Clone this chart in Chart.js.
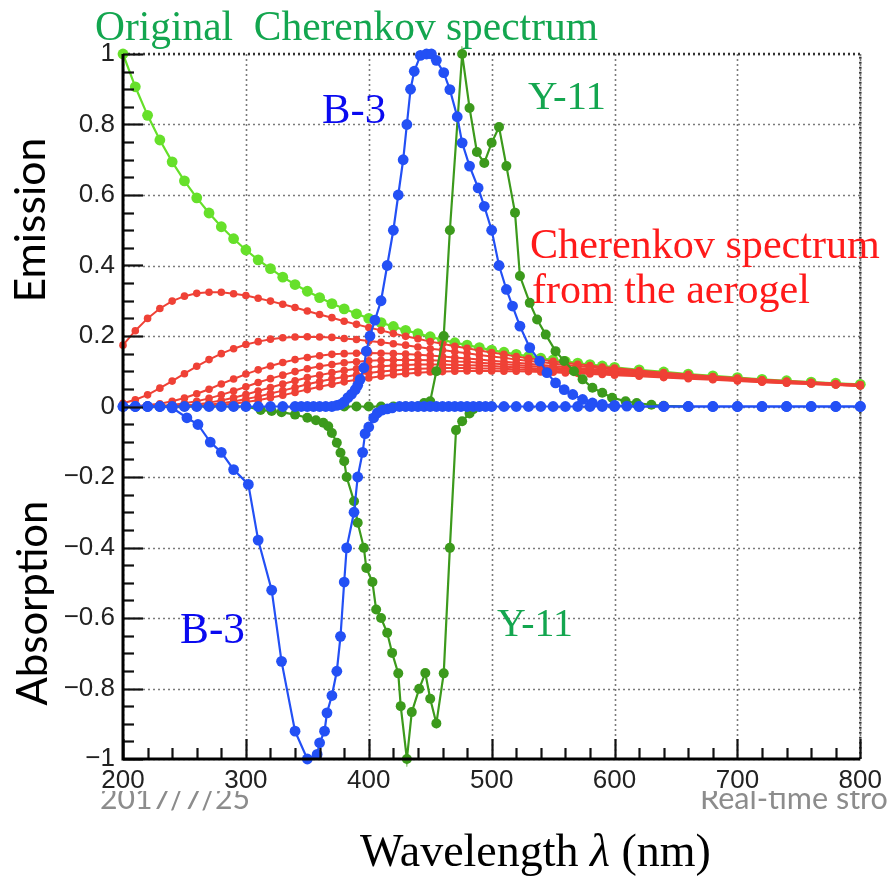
<!DOCTYPE html>
<html lang="en">
  <head>
    <meta charset="UTF-8" />
    <title>Cherenkov spectrum and wavelength shifters</title>
    <script src="https://cdn.jsdelivr.net/npm/chart.js"></script>
    <style>
      html, body { margin: 0; padding: 0; background: #fff; }
      #wrap { width: 888px; height: 876px; }
    </style>
  </head>
  <body>
    <div id="wrap"><canvas id="spectrumChart" width="888" height="876"></canvas></div>

    <script>
      // ---- data ----
      var waveCh = [
        200, 210, 220, 230, 240, 250, 260, 270, 280, 290,
        300, 310, 320, 330, 340, 350, 360, 370, 380, 390,
        400, 410, 420, 430, 440, 450, 460, 470, 480, 490,
        500, 510, 520, 530, 540, 550, 560, 570, 580, 590,
        600, 620, 640, 660, 680, 700, 720, 740, 760, 780,
        800,
      ];
      var cherenkovOrig = [
        1.000, 0.907, 0.826, 0.756, 0.694, 0.640, 0.592, 0.549, 0.510, 0.476,
        0.444, 0.416, 0.391, 0.367, 0.346, 0.327, 0.309, 0.292, 0.277, 0.263,
        0.250, 0.238, 0.227, 0.216, 0.207, 0.198, 0.189, 0.181, 0.174, 0.167,
        0.160, 0.154, 0.148, 0.142, 0.137, 0.132, 0.128, 0.123, 0.119, 0.115,
        0.111, 0.104, 0.098, 0.092, 0.087, 0.082, 0.077, 0.073, 0.069, 0.066,
        0.063,
      ];
      var aerogel1 = [
        0.174, 0.215, 0.250, 0.278, 0.299, 0.313, 0.321, 0.324, 0.324, 0.320,
        0.315, 0.307, 0.299, 0.290, 0.281, 0.271, 0.261, 0.252, 0.242, 0.233,
        0.224, 0.216, 0.207, 0.199, 0.192, 0.184, 0.178, 0.171, 0.165, 0.159,
        0.153, 0.148, 0.142, 0.137, 0.133, 0.128, 0.124, 0.120, 0.116, 0.112,
        0.109, 0.102, 0.096, 0.091, 0.085, 0.081, 0.076, 0.072, 0.069, 0.065,
        0.062,
      ];
      var aerogel2 = [
        0.009, 0.019, 0.033, 0.052, 0.072, 0.093, 0.114, 0.133, 0.150, 0.164,
        0.176, 0.184, 0.191, 0.195, 0.197, 0.198, 0.197, 0.196, 0.193, 0.190,
        0.186, 0.182, 0.178, 0.174, 0.169, 0.164, 0.160, 0.155, 0.151, 0.146,
        0.142, 0.138, 0.133, 0.129, 0.126, 0.122, 0.118, 0.115, 0.111, 0.108,
        0.105, 0.099, 0.093, 0.088, 0.084, 0.079, 0.075, 0.071, 0.068, 0.064,
        0.061,
      ];
      var aerogel3 = [
        0.000, 0.001, 0.004, 0.008, 0.015, 0.024, 0.036, 0.049, 0.064, 0.078,
        0.092, 0.104, 0.115, 0.125, 0.133, 0.139, 0.144, 0.148, 0.150, 0.151,
        0.152, 0.151, 0.150, 0.149, 0.147, 0.145, 0.142, 0.139, 0.136, 0.133,
        0.130, 0.127, 0.124, 0.121, 0.118, 0.115, 0.112, 0.109, 0.106, 0.103,
        0.101, 0.096, 0.091, 0.086, 0.082, 0.077, 0.074, 0.070, 0.067, 0.064,
        0.061,
      ];
      var aerogel4 = [
        0.000, 0.000, 0.001, 0.002, 0.004, 0.009, 0.015, 0.023, 0.033, 0.044,
        0.056, 0.068, 0.079, 0.089, 0.099, 0.107, 0.114, 0.119, 0.124, 0.127,
        0.130, 0.131, 0.132, 0.132, 0.132, 0.131, 0.130, 0.128, 0.127, 0.124,
        0.122, 0.120, 0.118, 0.115, 0.113, 0.110, 0.108, 0.105, 0.103, 0.100,
        0.098, 0.093, 0.088, 0.084, 0.080, 0.076, 0.073, 0.069, 0.066, 0.063,
        0.060,
      ];
      var aerogel5 = [
        0.000, 0.000, 0.000, 0.000, 0.001, 0.003, 0.006, 0.011, 0.017, 0.025,
        0.034, 0.044, 0.054, 0.064, 0.073, 0.082, 0.089, 0.096, 0.102, 0.107,
        0.111, 0.114, 0.116, 0.118, 0.119, 0.119, 0.119, 0.118, 0.117, 0.116,
        0.115, 0.113, 0.111, 0.109, 0.107, 0.105, 0.103, 0.101, 0.099, 0.097,
        0.095, 0.091, 0.086, 0.082, 0.079, 0.075, 0.071, 0.068, 0.065, 0.062,
        0.059,
      ];
      var aerogel6 = [
        0.000, 0.000, 0.000, 0.000, 0.000, 0.001, 0.003, 0.005, 0.009, 0.014,
        0.021, 0.028, 0.037, 0.045, 0.054, 0.063, 0.071, 0.078, 0.084, 0.090,
        0.095, 0.099, 0.102, 0.105, 0.107, 0.108, 0.109, 0.109, 0.109, 0.108,
        0.108, 0.107, 0.105, 0.104, 0.103, 0.101, 0.099, 0.097, 0.096, 0.094,
        0.092, 0.088, 0.084, 0.081, 0.077, 0.074, 0.070, 0.067, 0.064, 0.062,
        0.059,
      ];
      var aerogel7 = [
        0.000, 0.000, 0.000, 0.000, 0.000, 0.000, 0.001, 0.002, 0.005, 0.008,
        0.013, 0.018, 0.025, 0.032, 0.040, 0.048, 0.056, 0.063, 0.070, 0.076,
        0.081, 0.086, 0.090, 0.093, 0.096, 0.098, 0.099, 0.100, 0.101, 0.101,
        0.101, 0.100, 0.100, 0.099, 0.098, 0.097, 0.095, 0.094, 0.092, 0.091,
        0.089, 0.086, 0.082, 0.079, 0.076, 0.072, 0.069, 0.066, 0.064, 0.061,
        0.058,
      ];

      var b3EmX = [
        200, 210, 220, 230, 240, 250, 260, 270, 280, 290,
        300, 310, 320, 330, 340, 345, 350, 355, 360, 365,
        370, 374, 377, 380, 383, 386, 389, 391, 393, 396,
        398, 401, 405, 410, 415, 420, 424, 428, 431, 434,
        437, 442, 447, 451, 455, 461, 466, 472, 476, 482,
        489, 494, 500, 506, 512, 517, 523, 531, 539, 545,
        552, 559, 566, 574, 582, 590, 600, 610, 620, 640,
        660, 680, 700, 720, 740, 760, 780, 800,
      ];
      var b3EmY = [
        0, 0, 0, 0, 0, 0, 0, 0, 0, 0,
        0, 0, 0, 0, 0, 0, 0, 0, 0, 0,
        0, 0.003, 0.006, 0.013, 0.025, 0.035, 0.048, 0.060, 0.077, 0.110,
        0.157, 0.200, 0.245, 0.300, 0.400, 0.500, 0.600, 0.700, 0.800, 0.900,
        0.951, 0.996, 1.000, 1.000, 0.982, 0.947, 0.899, 0.822, 0.748, 0.682,
        0.620, 0.568, 0.500, 0.400, 0.332, 0.285, 0.228, 0.167, 0.129, 0.096,
        0.067, 0.048, 0.034, 0.020, 0.010, 0.006, 0.003, 0.001, 0, 0,
        0, 0, 0, 0, 0, 0, 0, 0,
      ];
      var b3AbsX = [
        200, 210, 220, 230, 240, 252, 261, 271, 280, 290,
        302, 310, 321, 329, 340, 350, 358, 360, 364, 366,
        370, 374, 377, 380, 382, 388, 391, 395, 397, 400,
        404, 407, 411, 415, 419, 425, 430, 435, 440, 445,
        450, 455, 460, 465, 470, 475, 480, 485, 490, 495,
        500, 510, 520, 530, 540, 550, 560, 570, 580, 590,
        600, 620, 640, 660, 680, 700, 720, 740, 760, 780,
        800,
      ];
      var b3AbsY = [
        0, 0, 0, 0, -0.004, -0.032, -0.051, -0.101, -0.130, -0.179,
        -0.221, -0.379, -0.521, -0.723, -0.921, -1.000, -0.987, -0.954, -0.921, -0.869,
        -0.820, -0.751, -0.652, -0.498, -0.401, -0.300, -0.200, -0.130, -0.077, -0.058,
        -0.032, -0.018, -0.010, -0.007, -0.004, 0, 0, 0, 0, 0,
        0, 0, 0, 0, 0, 0, 0, 0, 0, 0,
        0, 0, 0, 0, 0, 0, 0, 0, 0, 0,
        0, 0, 0, 0, 0, 0, 0, 0, 0, 0,
        0,
      ];
      var y11EmX = [
        380, 390, 400, 410, 420, 430, 440, 445, 450, 455,
        461, 466, 476, 482, 488, 494, 500, 506, 512, 519,
        523, 531, 537, 544, 552, 559, 567, 574, 582, 590,
        598, 609, 618, 630, 640, 660,
      ];
      var y11EmY = [
        0, 0, 0, 0, 0, 0, 0, 0.010, 0.015, 0.100,
        0.200, 0.500, 1.000, 0.847, 0.722, 0.691, 0.748, 0.793, 0.682, 0.550,
        0.370, 0.294, 0.247, 0.204, 0.157, 0.129, 0.100, 0.077, 0.053, 0.039,
        0.025, 0.015, 0.010, 0.005, 0.002, 0,
      ];
      var y11AbsX = [
        200, 210, 220, 230, 240, 250, 260, 270, 280, 290,
        300, 312, 321, 329, 340, 350, 357, 363, 367, 370,
        374, 377, 380, 382, 388, 391, 396, 398, 403, 406,
        410, 415, 419, 424, 426, 431, 435, 441, 446, 450,
        455, 461, 466, 471, 476, 482, 485, 490, 500,
      ];
      var y11AbsY = [
        0, 0, 0, 0, 0, 0, 0, 0, 0, 0,
        0, -0.010, -0.013, -0.016, -0.023, -0.032, -0.039, -0.046, -0.056, -0.075,
        -0.103, -0.131, -0.155, -0.200, -0.269, -0.330, -0.401, -0.458, -0.498, -0.576,
        -0.600, -0.642, -0.699, -0.757, -0.850, -1.000, -0.867, -0.801, -0.756, -0.829,
        -0.899, -0.757, -0.401, -0.067, -0.042, -0.020, -0.008, 0, 0,
      ];

      var xTicks = [200, 300, 400, 500, 600, 700, 800];
      var yTicks = [-1, -0.8, -0.6, -0.4, -0.2, 0, 0.2, 0.4, 0.6, 0.8, 1];

      // ---- colours ----
      var cBlue = "#2350f5";
      var cDarkGreen = "#3c9a1c";
      var cLightGreen = "#66e02a";
      var cRed = "#ef4136";

      function pts(xs, ys) {
        return xs.map(function (v, i) {
          return { x: v, y: ys[i] };
        });
      }

      function series(xs, ys, color, radius, width) {
        return {
          data: pts(xs, ys),
          borderColor: color,
          backgroundColor: color,
          pointBackgroundColor: color,
          pointBorderColor: color,
          pointRadius: radius,
          pointBorderWidth: 0,
          borderWidth: width,
          tension: 0,
          fill: false,
          clip: 8,
        };
      }

      var aerogel = [aerogel1, aerogel2, aerogel3, aerogel4, aerogel5, aerogel6, aerogel7];

      // first dataset is drawn on top
      var datasets = [
        series(b3EmX, b3EmY, cBlue, 5.4, 2.2),
        series(b3AbsX, b3AbsY, cBlue, 5.4, 2.2),
        series(y11EmX, y11EmY, cDarkGreen, 5, 2.2),
        series(y11AbsX, y11AbsY, cDarkGreen, 5, 2.2),
      ];
      aerogel.forEach(function (a) {
        datasets.push(series(waveCh, a, cRed, 3.8, 2));
      });
      datasets.push(series(waveCh, cherenkovOrig, cLightGreen, 5.4, 2.2));

      // font size picked so the text spans the given pixel width
      function fitSize(ctx, text, width, family) {
        ctx.font = "100px " + family;
        return (100 * width) / ctx.measureText(text).width;
      }

      function fitText(ctx, text, x, y, width, family, color, rot) {
        ctx.save();
        var size = fitSize(ctx, text, width, family);
        ctx.font = size + "px " + family;
        ctx.fillStyle = color;
        ctx.textBaseline = "alphabetic";
        ctx.translate(x, y);
        if (rot) ctx.rotate(rot);
        ctx.textAlign = rot ? "center" : "left";
        ctx.fillText(text, 0, 0);
        ctx.restore();
      }

      var frame = {
        id: "frame",
        beforeDatasetsDraw: function (chart) {
          var ctx = chart.ctx;
          var a = chart.chartArea;
          var xs = chart.scales.x;
          var ys = chart.scales.y;
          ctx.save();
          ctx.lineWidth = 1.6;
          ctx.setLineDash([2, 3]);
          ctx.strokeStyle = "#7a7a7a";
          xTicks.forEach(function (v) {
            var px = Math.round(xs.getPixelForValue(v)) + 0.5;
            ctx.beginPath();
            ctx.moveTo(px, a.top);
            ctx.lineTo(px, a.bottom);
            ctx.stroke();
          });
          yTicks.forEach(function (v) {
            var py = Math.round(ys.getPixelForValue(v)) + 0.5;
            ctx.beginPath();
            ctx.moveTo(a.left, py);
            ctx.lineTo(a.right, py);
            ctx.stroke();
          });
          ctx.strokeStyle = "#333";
          ctx.lineWidth = 2.5;
          ctx.beginPath();
          ctx.moveTo(a.left, a.top);
          ctx.lineTo(a.right, a.top);
          ctx.lineTo(a.right, a.bottom);
          ctx.stroke();
          ctx.restore();
        },
        afterDatasetsDraw: function (chart) {
          var ctx = chart.ctx;
          var a = chart.chartArea;
          var xs = chart.scales.x;
          var ys = chart.scales.y;
          ctx.save();
          ctx.strokeStyle = "#111";
          ctx.lineWidth = 2.2;
          // inward ticks on the left axis
          for (var k = 0; k <= 40; k++) {
            var v = -1 + k * 0.05;
            var py = Math.round(ys.getPixelForValue(v)) + 0.5;
            var len = k % 4 === 0 ? 20 : 11;
            ctx.beginPath();
            ctx.moveTo(a.left, py);
            ctx.lineTo(a.left + len, py);
            ctx.stroke();
          }
          // inward ticks on the bottom axis
          for (var w = 200; w <= 800; w += 20) {
            var px = Math.round(xs.getPixelForValue(w)) + 0.5;
            var l = w % 100 === 0 ? 20 : 11;
            ctx.beginPath();
            ctx.moveTo(px, a.bottom);
            ctx.lineTo(px, a.bottom - l);
            ctx.stroke();
          }
          ctx.lineWidth = 3;
          ctx.strokeStyle = "#000";
          ctx.beginPath();
          ctx.moveTo(a.left, a.top);
          ctx.lineTo(a.left, a.bottom);
          ctx.lineTo(a.right, a.bottom);
          ctx.stroke();
          ctx.restore();
        },
        afterDraw: function (chart) {
          var ctx = chart.ctx;
          var serif = '"Liberation Serif", "DejaVu Serif", serif';
          var sans = 'Lato, "Open Sans", sans-serif';
          var green = "#13a64f";
          var blue = "#0a0af0";
          var red = "#ff1a1a";

          fitText(ctx, "Original  Cherenkov spectrum", 95, 40, 503, serif, green);
          fitText(ctx, "B-3", 322, 123, 64, serif, blue);
          fitText(ctx, "Y-11", 528, 109, 78, serif, green);
          fitText(ctx, "Cherenkov spectrum", 530, 258, 350, serif, red);
          fitText(ctx, "from the aerogel", 532, 303, 278, serif, red);
          fitText(ctx, "B-3", 180, 643, 65, serif, blue);
          fitText(ctx, "Y-11", 497, 636, 76, serif, green);

          fitText(ctx, "Emission", 45, 220, 165, sans, "#000", -Math.PI / 2);
          fitText(ctx, "Absorption", 47, 603, 205, sans, "#000", -Math.PI / 2);

          // x title with italic lambda
          ctx.save();
          ctx.fillStyle = "#000";
          var size = 46;
          ctx.font = size + "px " + serif;
          var p1 = "Wavelength ";
          var p3 = " (nm)";
          var x0 = 360;
          ctx.fillText(p1, x0, 866);
          x0 += ctx.measureText(p1).width;
          ctx.font = "italic " + size + "px " + serif;
          ctx.fillText("\u03bb", x0, 866);
          x0 += ctx.measureText("\u03bb").width;
          ctx.font = size + "px " + serif;
          ctx.fillText(p3, x0, 866);
          ctx.restore();

          // slide footer, top part hidden
          ctx.save();
          ctx.beginPath();
          ctx.rect(0, 791, 888, 40);
          ctx.clip();
          fitText(ctx, "2017/7/25", 100, 809, 150, sans, "#8c8c8c");
          var fs = fitSize(ctx, "Real-time stro", 188, sans);
          ctx.font = fs + "px " + sans;
          ctx.fillStyle = "#8c8c8c";
          ctx.fillText("Real-time strong", 700, 809);
          ctx.restore();
        },
      };

      var ctx = document.getElementById("spectrumChart").getContext("2d");
      var spectrumChart = new Chart(ctx, {
        type: "line",
        data: { datasets: datasets },
        options: {
          responsive: false,
          animation: false,
          devicePixelRatio: 1,
          layout: { padding: { top: 54, right: 22, left: 0, bottom: 0 } },
          plugins: {
            legend: { display: false },
            tooltip: { enabled: false },
          },
          scales: {
            x: {
              type: "linear",
              min: 200,
              max: 800,
              afterFit: function (s) {
                s.height = 117;
              },
              afterBuildTicks: function (s) {
                s.ticks = xTicks.map(function (v) {
                  return { value: v };
                });
              },
              grid: { display: false, drawTicks: false },
              border: { display: false },
              ticks: {
                padding: 6,
                color: "#222",
                font: { family: '"Liberation Sans", Arial, sans-serif', size: 26 },
                maxRotation: 0,
              },
            },
            y: {
              type: "linear",
              min: -1,
              max: 1,
              afterFit: function (s) {
                s.width = 123;
              },
              afterBuildTicks: function (s) {
                s.ticks = yTicks.map(function (v) {
                  return { value: v };
                });
              },
              grid: { display: false, drawTicks: false },
              border: { display: false },
              ticks: {
                padding: 8,
                color: "#222",
                font: { family: '"Liberation Sans", Arial, sans-serif', size: 26 },
                callback: function (value) {
                  var s = String(Number(Math.abs(value).toFixed(1)));
                  return value < 0 ? "\u2212" + s : s;
                },
              },
            },
          },
        },
        plugins: [frame],
      });
    </script>
  </body>
</html>
